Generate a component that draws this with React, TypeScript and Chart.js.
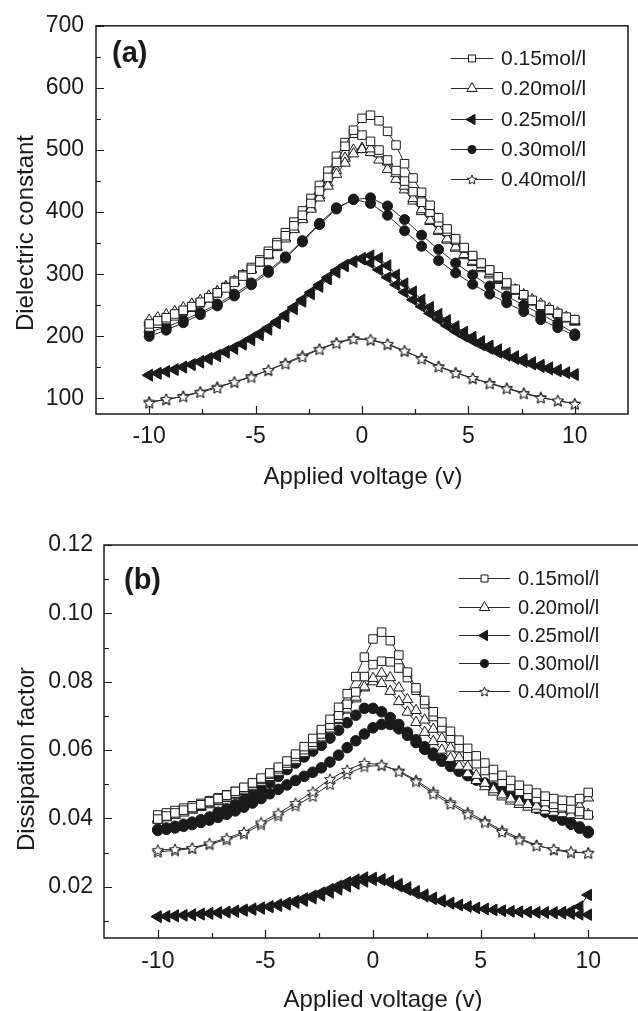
import React, { useEffect, useRef } from "react";
import { Chart, registerables } from "chart.js";
Chart.register(...registerables);

const FONT = "'Liberation Sans', Arial, Helvetica, sans-serif";
const INK = "#1a1a1a";
const LINE = "#2a2a2a";

// ---------- axes ----------
const X_TICKS = [-10, -5, 0, 5, 10];
const X_MINOR = [-7.5, -2.5, 2.5, 7.5];
const DC_TICKS = [100, 200, 300, 400, 500, 600, 700];
const DC_MINOR = [150, 250, 350, 450, 550, 650];
const DF_TICKS = [0.02, 0.04, 0.06, 0.08, 0.1, 0.12];
const DF_MINOR = [0.01, 0.03, 0.05, 0.07, 0.09, 0.11];

const SERIES_NAMES = ["0.15mol/l", "0.20mol/l", "0.25mol/l", "0.30mol/l", "0.40mol/l"];

// ---------- voltage grids ----------
const X_DENSE = [-10, -9.6, -9.2, -8.8, -8.4, -8, -7.6, -7.2, -6.8, -6.4, -6, -5.6, -5.2, -4.8, -4.4, -4, -3.6, -3.2, -2.8, -2.4, -2, -1.6, -1.2, -0.8, -0.4, 0, 0.4, 0.8, 1.2, 1.6, 2, 2.4, 2.8, 3.2, 3.6, 4, 4.4, 4.8, 5.2, 5.6, 6, 6.4, 6.8, 7.2, 7.6, 8, 8.4, 8.8, 9.2, 9.6, 10];
const X_SPARSE = [-10, -9.2, -8.4, -7.6, -6.8, -6, -5.2, -4.4, -3.6, -2.8, -2, -1.2, -0.4, 0.4, 1.2, 2, 2.8, 3.6, 4.4, 5.2, 6, 6.8, 7.6, 8.4, 9.2, 10];

// ---------- panel (a): dielectric constant ----------
const DC_015_A = [220, 225, 230, 236, 242, 248, 255, 262, 270, 278, 287, 297, 308, 320, 333, 347, 362, 378, 395, 414, 434, 456, 480, 506, 532, 551, 556, 547, 530, 508, 478, 455, 432, 411, 391, 373, 357, 343, 330, 318, 307, 296, 286, 276, 267, 258, 250, 243, 237, 231, 227];
const DC_015_B = [215, 221, 227, 233, 240, 247, 254, 262, 270, 279, 289, 299, 311, 323, 337, 351, 367, 384, 402, 422, 443, 466, 490, 512, 527, 524, 514, 500, 484, 467, 450, 433, 416, 400, 384, 369, 355, 342, 329, 317, 306, 295, 285, 275, 266, 257, 249, 242, 236, 230, 226];
const DC_020_A = [226, 230, 235, 240, 246, 252, 258, 265, 272, 280, 288, 297, 307, 318, 330, 343, 357, 372, 388, 405, 423, 442, 461, 479, 494, 501, 502, 494, 481, 462, 442, 422, 404, 387, 371, 357, 344, 332, 321, 311, 301, 292, 283, 275, 267, 259, 252, 245, 238, 231, 225];
const DC_020_B = [222, 227, 232, 238, 244, 250, 257, 264, 272, 280, 289, 298, 308, 319, 331, 344, 358, 373, 390, 408, 427, 447, 467, 487, 500, 503, 496, 484, 469, 453, 436, 418, 401, 385, 369, 355, 342, 330, 319, 309, 299, 290, 281, 273, 265, 257, 250, 243, 236, 229, 223];
const DC_025_A = [137, 140, 143, 146, 150, 154, 158, 163, 168, 174, 180, 187, 194, 202, 211, 221, 232, 244, 256, 268, 280, 292, 303, 313, 320, 326, 330, 326, 314, 299, 285, 272, 259, 247, 236, 226, 216, 207, 199, 192, 185, 179, 173, 168, 163, 158, 154, 150, 146, 142, 139];
const DC_025_B = [138, 141, 144, 147, 151, 155, 160, 165, 170, 176, 182, 189, 197, 205, 214, 224, 235, 247, 259, 271, 283, 295, 306, 315, 321, 324, 318, 307, 295, 283, 271, 259, 248, 237, 227, 217, 208, 200, 193, 186, 180, 174, 169, 164, 159, 155, 151, 147, 144, 141, 138];
const DC_030_A = [200, 210, 222, 235, 249, 265, 283, 303, 326, 352, 380, 405, 421, 414, 395, 370, 345, 322, 302, 284, 268, 254, 240, 227, 214, 201];
const DC_030_B = [207, 215, 226, 238, 252, 268, 286, 306, 328, 354, 382, 407, 420, 423, 410, 388, 363, 340, 318, 299, 281, 265, 250, 236, 221, 204];
const DC_040_A = [93, 99, 103, 110, 117, 127, 134, 146, 156, 167, 179, 189, 196, 195, 188, 177, 164, 151, 141, 133, 124, 116, 108, 101, 97, 91];
const DC_040_B = [95, 98, 104, 111, 119, 126, 136, 145, 157, 169, 180, 190, 197, 194, 187, 176, 165, 152, 142, 132, 125, 117, 109, 102, 96, 92];

// ---------- panel (b): dissipation factor ----------
const DF_015_A = [0.0398, 0.0407, 0.0416, 0.0424, 0.0432, 0.044, 0.0449, 0.0458, 0.0468, 0.0479, 0.0491, 0.0504, 0.0518, 0.0533, 0.055, 0.0568, 0.0588, 0.061, 0.0634, 0.066, 0.069, 0.0725, 0.0765, 0.0815, 0.0872, 0.0925, 0.0945, 0.092, 0.0878, 0.0828, 0.0782, 0.0745, 0.0712, 0.0682, 0.0655, 0.0629, 0.0605, 0.0583, 0.0562, 0.0543, 0.0526, 0.0511, 0.0497, 0.0485, 0.0474, 0.0465, 0.0458, 0.0453, 0.0451, 0.0458, 0.0476];
const DF_015_B = [0.041, 0.0416, 0.0423, 0.043, 0.0437, 0.0444, 0.0452, 0.046, 0.0469, 0.0479, 0.049, 0.0502, 0.0515, 0.0529, 0.0545, 0.0562, 0.0581, 0.0601, 0.0623, 0.0647, 0.0673, 0.0702, 0.0734, 0.077, 0.0815, 0.085, 0.086, 0.0858, 0.084, 0.0812, 0.0775, 0.0735, 0.0698, 0.0665, 0.0635, 0.0607, 0.0582, 0.056, 0.054, 0.0522, 0.0506, 0.0492, 0.0479, 0.0468, 0.0458, 0.0449, 0.0441, 0.0434, 0.0428, 0.042, 0.041];
const DF_020_A = [0.04, 0.0407, 0.0414, 0.0421, 0.0428, 0.0435, 0.0443, 0.0451, 0.046, 0.047, 0.0481, 0.0493, 0.0506, 0.052, 0.0535, 0.0552, 0.057, 0.059, 0.0612, 0.0636, 0.0662, 0.069, 0.072, 0.0755, 0.0785, 0.081, 0.0825, 0.0812, 0.0782, 0.0748, 0.0716, 0.0688, 0.0661, 0.0634, 0.0606, 0.0578, 0.0551, 0.0526, 0.0503, 0.0484, 0.0469, 0.0457, 0.0448, 0.0441, 0.0436, 0.0432, 0.0429, 0.0427, 0.0427, 0.0436, 0.046];
const DF_020_B = [0.0395, 0.0402, 0.0409, 0.0416, 0.0424, 0.0432, 0.044, 0.0449, 0.0458, 0.0468, 0.0479, 0.0491, 0.0504, 0.0518, 0.0533, 0.0549, 0.0567, 0.0587, 0.0609, 0.0633, 0.0659, 0.0687, 0.0717, 0.075, 0.0782, 0.08, 0.0795, 0.0772, 0.0742, 0.0711, 0.0681, 0.0652, 0.0625, 0.06, 0.0576, 0.0553, 0.0531, 0.0511, 0.0493, 0.0477, 0.0463, 0.0451, 0.0441, 0.0433, 0.0427, 0.0422, 0.0418, 0.0414, 0.0411, 0.0409, 0.0412];
const DF_025_A = [0.0112, 0.0113, 0.0114, 0.0116, 0.0117, 0.0119, 0.0121, 0.0123, 0.0125, 0.0127, 0.013, 0.0133, 0.0136, 0.014, 0.0144, 0.0148, 0.0153, 0.0159, 0.0166, 0.0174, 0.0183, 0.0192, 0.0201, 0.0209, 0.0215, 0.022, 0.0222, 0.0217, 0.0208, 0.0198, 0.0187, 0.0177, 0.0168, 0.016, 0.0153, 0.0147, 0.0142, 0.0138, 0.0135, 0.0132, 0.013, 0.0128, 0.0127, 0.0126, 0.0125, 0.0125, 0.0125, 0.0126, 0.0129, 0.0142, 0.0176];
const DF_025_B = [0.0113, 0.0114, 0.0116, 0.0117, 0.0119, 0.0121, 0.0123, 0.0125, 0.0127, 0.013, 0.0133, 0.0136, 0.0139, 0.0143, 0.0148, 0.0153, 0.0159, 0.0166, 0.0174, 0.0183, 0.0193, 0.0203, 0.0213, 0.0221, 0.0227, 0.0226, 0.022, 0.0211, 0.0201, 0.0191, 0.0181, 0.0172, 0.0164, 0.0157, 0.0151, 0.0146, 0.0142, 0.0138, 0.0135, 0.0132, 0.013, 0.0128, 0.0127, 0.0126, 0.0125, 0.0124, 0.0123, 0.0122, 0.0121, 0.0119, 0.0118];
const DF_030_A = [0.0368, 0.0372, 0.0377, 0.0383, 0.0389, 0.0396, 0.0404, 0.0418, 0.0428, 0.044, 0.0454, 0.0469, 0.0486, 0.0504, 0.0523, 0.0543, 0.0562, 0.058, 0.0597, 0.0614, 0.0635, 0.0658, 0.068, 0.0702, 0.0722, 0.0722, 0.0712, 0.0695, 0.0675, 0.0652, 0.063, 0.061, 0.0591, 0.0574, 0.0558, 0.0543, 0.0529, 0.0516, 0.0503, 0.0491, 0.0479, 0.0467, 0.0455, 0.0443, 0.0431, 0.0419, 0.0407, 0.0395, 0.0383, 0.0371, 0.0358];
const DF_030_B = [0.0365, 0.0368, 0.0372, 0.0377, 0.0382, 0.0388, 0.0395, 0.0403, 0.0412, 0.0422, 0.0433, 0.0445, 0.0458, 0.0472, 0.0485, 0.0498, 0.0511, 0.0523, 0.0535, 0.0548, 0.0565, 0.0585, 0.0607, 0.0627, 0.0647, 0.0665, 0.0675, 0.0675, 0.0662, 0.0643, 0.0622, 0.0602, 0.0584, 0.0567, 0.0552, 0.0538, 0.0525, 0.0512, 0.05, 0.0488, 0.0476, 0.0464, 0.0452, 0.0441, 0.043, 0.0419, 0.0408, 0.0397, 0.0386, 0.0375, 0.0362];
const DF_040_A = [0.0308, 0.031, 0.0314, 0.0327, 0.0342, 0.036, 0.0388, 0.0415, 0.0445, 0.0478, 0.0515, 0.0542, 0.0562, 0.0557, 0.0537, 0.0508, 0.0472, 0.0442, 0.0412, 0.0388, 0.036, 0.0338, 0.032, 0.031, 0.0303, 0.0298];
const DF_040_B = [0.0302, 0.0306, 0.0312, 0.0324, 0.0338, 0.0355, 0.0382, 0.0408, 0.0437, 0.0465, 0.05, 0.053, 0.0552, 0.0555, 0.054, 0.0512, 0.0478, 0.0447, 0.0418, 0.0392, 0.0365, 0.0342, 0.0322, 0.0308, 0.03, 0.03];

type Branch = { xs: number[]; ys: number[] };

const PANEL_A_GROUPS: Branch[][] = [
  [{ xs: X_DENSE, ys: DC_015_A }, { xs: X_DENSE, ys: DC_015_B }],
  [{ xs: X_DENSE, ys: DC_020_A }, { xs: X_DENSE, ys: DC_020_B }],
  [{ xs: X_DENSE, ys: DC_025_A }, { xs: X_DENSE, ys: DC_025_B }],
  [{ xs: X_SPARSE, ys: DC_030_A }, { xs: X_SPARSE, ys: DC_030_B }],
  [{ xs: X_SPARSE, ys: DC_040_A }, { xs: X_SPARSE, ys: DC_040_B }],
];
const PANEL_B_GROUPS: Branch[][] = [
  [{ xs: X_DENSE, ys: DF_015_A }, { xs: X_DENSE, ys: DF_015_B }],
  [{ xs: X_DENSE, ys: DF_020_A }, { xs: X_DENSE, ys: DF_020_B }],
  [{ xs: X_DENSE, ys: DF_025_A }, { xs: X_DENSE, ys: DF_025_B }],
  [{ xs: X_DENSE, ys: DF_030_A }, { xs: X_DENSE, ys: DF_030_B }],
  [{ xs: X_SPARSE, ys: DF_040_A }, { xs: X_SPARSE, ys: DF_040_B }],
];

// ---------- marker helpers ----------
function starPath(g: CanvasRenderingContext2D, cx: number, cy: number, R: number, r: number) {
  g.beginPath();
  for (let i = 0; i < 10; i++) {
    const rad = i % 2 === 0 ? R : r;
    const ang = -Math.PI / 2 + (i * Math.PI) / 5;
    const px = cx + rad * Math.cos(ang);
    const py = cy + rad * Math.sin(ang);
    if (i === 0) g.moveTo(px, py);
    else g.lineTo(px, py);
  }
  g.closePath();
}

function makeStarImage(R: number) {
  const size = Math.ceil(R * 2 + 4);
  const c = document.createElement("canvas");
  c.width = size;
  c.height = size;
  const g = c.getContext("2d")!;
  starPath(g, size / 2, size / 2 + R * 0.1, R, R * 0.45);
  g.fillStyle = "#fff";
  g.fill();
  g.lineWidth = 1;
  g.strokeStyle = INK;
  g.stroke();
  return c;
}

type Kind = "square" | "tri" | "ltri" | "circle" | "star";
const KINDS: Kind[] = ["square", "tri", "ltri", "circle", "star"];

function drawLegendMarker(g: CanvasRenderingContext2D, kind: Kind, x: number, y: number) {
  g.save();
  g.lineWidth = 1;
  g.strokeStyle = INK;
  g.fillStyle = "#fff";
  g.beginPath();
  if (kind === "square") {
    g.rect(x - 3.5, y - 3.5, 7, 7);
    g.fill();
    g.stroke();
  } else if (kind === "tri") {
    const r = 6;
    g.moveTo(x, y - r);
    g.lineTo(x + r * 0.866, y + r * 0.5);
    g.lineTo(x - r * 0.866, y + r * 0.5);
    g.closePath();
    g.fill();
    g.stroke();
  } else if (kind === "ltri") {
    const r = 6;
    g.moveTo(x - r, y);
    g.lineTo(x + r * 0.5, y - r * 0.866);
    g.lineTo(x + r * 0.5, y + r * 0.866);
    g.closePath();
    g.fillStyle = INK;
    g.fill();
    g.stroke();
  } else if (kind === "circle") {
    g.arc(x, y, 4.5, 0, Math.PI * 2);
    g.fillStyle = INK;
    g.fill();
  } else {
    starPath(g, x, y + 0.5, 5, 2.3);
    g.fill();
    g.stroke();
  }
  g.restore();
}

// ---------- panel specs ----------
type PanelSpec = {
  top: number;
  width: number;
  height: number;
  area: { left: number; top: number; right: number; bottom: number };
  yMin: number;
  yMax: number;
  yTicks: number[];
  yMinor: number[];
  yDecimals: number;
  groups: Branch[][];
  yTitle: string;
  yTitlePos: [number, number];
  xTitlePos: [number, number];
  label: string;
  labelPos: [number, number];
  legend: { x1: number; x2: number; textX: number; rows: number[]; font: number };
  tickFont: number;
  xPad: number;
  yPad: number;
  circleR: number;
};

const PANEL_A: PanelSpec = {
  top: 0,
  width: 638,
  height: 500,
  area: { left: 96, top: 22, right: 628, bottom: 414 },
  yMin: 75,
  yMax: 700,
  yTicks: DC_TICKS,
  yMinor: DC_MINOR,
  yDecimals: 0,
  groups: PANEL_A_GROUPS,
  yTitle: "Dielectric constant",
  yTitlePos: [26, 233],
  xTitlePos: [363, 477],
  label: "(a)",
  labelPos: [112, 54],
  legend: { x1: 451, x2: 493, textX: 501, rows: [58, 88, 119, 149, 179], font: 21 },
  tickFont: 23,
  xPad: 9,
  yPad: 12,
  circleR: 5,
};

const PANEL_B: PanelSpec = {
  top: 500,
  width: 660,
  height: 511,
  area: { left: 104, top: 45, right: 642, bottom: 438 },
  yMin: 0.005,
  yMax: 0.12,
  yTicks: DF_TICKS,
  yMinor: DF_MINOR,
  yDecimals: 2,
  groups: PANEL_B_GROUPS,
  yTitle: "Dissipation factor",
  yTitlePos: [27, 259],
  xTitlePos: [383, 500],
  label: "(b)",
  labelPos: [124, 81],
  legend: { x1: 459, x2: 510, textX: 518, rows: [78, 107, 135, 163, 191], font: 20 },
  tickFont: 23,
  xPad: 10,
  yPad: 11,
  circleR: 5.3,
};

function buildDatasets(p: PanelSpec, star: HTMLCanvasElement) {
  const out: any[] = [];
  p.groups.forEach((branches, k) => {
    const kind = KINDS[k];
    branches.forEach((b) => {
      const common: any = {
        label: SERIES_NAMES[k],
        data: b.xs.map((x, i) => ({ x, y: b.ys[i] })),
        showLine: true,
        borderColor: LINE,
        borderWidth: 1,
        tension: 0,
        fill: false,
        pointBorderColor: INK,
        pointBorderWidth: 1,
        pointHoverRadius: 0,
      };
      if (kind === "square") Object.assign(common, { pointStyle: "rect", pointRadius: 6, pointBackgroundColor: "#fff" });
      if (kind === "tri") Object.assign(common, { pointStyle: "triangle", pointRadius: 6.2, pointBackgroundColor: "#fff" });
      if (kind === "ltri") Object.assign(common, { pointStyle: "triangle", pointRotation: -90, pointRadius: 6.6, pointBackgroundColor: INK });
      if (kind === "circle") Object.assign(common, { pointStyle: "circle", pointRadius: p.circleR, pointBackgroundColor: INK });
      if (kind === "star") Object.assign(common, { pointStyle: star, pointRadius: 6, pointBackgroundColor: "#fff" });
      out.push(common);
    });
  });
  return out;
}

function decorPlugin(p: PanelSpec) {
  return {
    id: "decor",
    afterDraw(chart: any) {
      const { ctx, chartArea: a, scales } = chart;
      const x = scales.x;
      const y = scales.y;
      ctx.save();
      ctx.strokeStyle = INK;
      ctx.lineWidth = 1.5;
      ctx.strokeRect(a.left, a.top, a.right - a.left, a.bottom - a.top);
      ctx.lineWidth = 1.2;
      ctx.beginPath();
      for (const v of X_TICKS) {
        const px = Math.round(x.getPixelForValue(v)) + 0.5;
        ctx.moveTo(px, a.bottom);
        ctx.lineTo(px, a.bottom - 8);
      }
      for (const v of X_MINOR) {
        const px = Math.round(x.getPixelForValue(v)) + 0.5;
        ctx.moveTo(px, a.bottom);
        ctx.lineTo(px, a.bottom - 5);
      }
      for (const v of p.yTicks) {
        const py = Math.round(y.getPixelForValue(v)) + 0.5;
        ctx.moveTo(a.left, py);
        ctx.lineTo(a.left + 8, py);
      }
      for (const v of p.yMinor) {
        const py = Math.round(y.getPixelForValue(v)) + 0.5;
        ctx.moveTo(a.left, py);
        ctx.lineTo(a.left + 5, py);
      }
      ctx.stroke();

      ctx.fillStyle = INK;
      ctx.font = `24px ${FONT}`;
      ctx.textAlign = "center";
      ctx.textBaseline = "middle";
      ctx.fillText("Applied voltage (v)", p.xTitlePos[0], p.xTitlePos[1]);
      ctx.save();
      ctx.translate(p.yTitlePos[0], p.yTitlePos[1]);
      ctx.rotate(-Math.PI / 2);
      ctx.fillText(p.yTitle, 0, 0);
      ctx.restore();

      ctx.font = `bold 29px ${FONT}`;
      ctx.textAlign = "left";
      ctx.fillText(p.label, p.labelPos[0], p.labelPos[1]);

      const L = p.legend;
      ctx.font = `${L.font}px ${FONT}`;
      L.rows.forEach((ry, k) => {
        ctx.strokeStyle = LINE;
        ctx.lineWidth = 1;
        ctx.beginPath();
        ctx.moveTo(L.x1, ry + 0.5);
        ctx.lineTo(L.x2, ry + 0.5);
        ctx.stroke();
        drawLegendMarker(ctx, KINDS[k], (L.x1 + L.x2) / 2, ry + 0.5);
        ctx.fillStyle = INK;
        ctx.textAlign = "left";
        ctx.textBaseline = "middle";
        ctx.fillText(SERIES_NAMES[k], L.textX, ry + 1);
      });
      ctx.restore();
    },
  };
}

function makeConfig(p: PanelSpec, star: HTMLCanvasElement): any {
  const xAxisH = p.height - p.area.bottom;
  return {
    type: "scatter",
    data: { datasets: buildDatasets(p, star) },
    options: {
      animation: false,
      responsive: false,
      maintainAspectRatio: false,
      devicePixelRatio: 1,
      events: [],
      layout: { padding: { top: p.area.top, right: p.width - p.area.right, left: 0, bottom: 0 } },
      plugins: { legend: { display: false }, tooltip: { enabled: false }, title: { display: false } },
      scales: {
        x: {
          type: "linear",
          min: -12.5,
          max: 12.5,
          grid: { display: false, drawTicks: false },
          border: { display: false },
          afterBuildTicks: (s: any) => {
            s.ticks = X_TICKS.map((v) => ({ value: v }));
          },
          afterFit: (s: any) => {
            s.height = xAxisH;
          },
          ticks: {
            autoSkip: false,
            maxRotation: 0,
            padding: p.xPad,
            color: INK,
            font: { family: FONT, size: p.tickFont },
            callback: (v: number) => String(v),
          },
        },
        y: {
          type: "linear",
          min: p.yMin,
          max: p.yMax,
          grid: { display: false, drawTicks: false },
          border: { display: false },
          afterBuildTicks: (s: any) => {
            s.ticks = p.yTicks.map((v) => ({ value: v }));
          },
          afterFit: (s: any) => {
            s.width = p.area.left;
          },
          ticks: {
            autoSkip: false,
            padding: p.yPad,
            color: INK,
            font: { family: FONT, size: p.tickFont },
            callback: (v: number) => Number(v).toFixed(p.yDecimals),
          },
        },
      },
    },
    plugins: [decorPlugin(p)],
  };
}

function Panel({ spec }: { spec: PanelSpec }) {
  const ref = useRef<HTMLCanvasElement | null>(null);
  useEffect(() => {
    if (!ref.current) return;
    const star = makeStarImage(5.8);
    const chart = new Chart(ref.current, makeConfig(spec, star));
    return () => chart.destroy();
  }, [spec]);
  return (
    <canvas
      ref={ref}
      width={spec.width}
      height={spec.height}
      style={{ position: "absolute", left: 0, top: spec.top, width: spec.width, height: spec.height }}
    />
  );
}

export default function App() {
  return (
    <div
      style={{
        position: "fixed",
        left: 0,
        top: 0,
        width: 638,
        height: 1011,
        overflow: "hidden",
        background: "#fff",
      }}
    >
      <Panel spec={PANEL_A} />
      <Panel spec={PANEL_B} />
    </div>
  );
}
